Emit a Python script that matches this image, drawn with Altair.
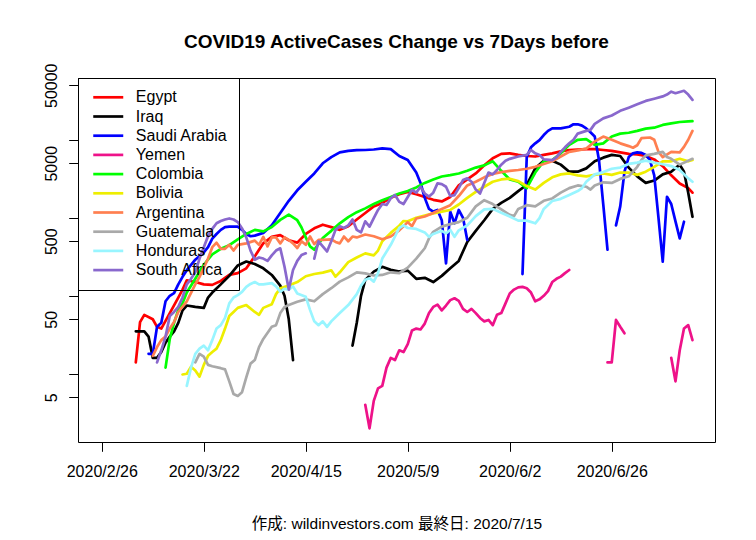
import altair as alt
import pandas as pd

COUNTRIES = ["Egypt", "Iraq", "Saudi Arabia", "Yemen", "Colombia", "Bolivia",
             "Argentina", "Guatemala", "Honduras", "South Africa"]
COLORS = ["#FF0000", "#000000", "#0000FF", "#EE1289", "#00FF00", "#EEEE00",
          "#FF7F50", "#A9A9A9", "#98F5FF", "#8968CD"]

TICK_DAYS = [0, 24, 48, 72, 96, 120]
TICK_LABELS = ["2020/2/26", "2020/3/22", "2020/4/15", "2020/5/9", "2020/6/2", "2020/6/26"]
Y_TICKS = [5, 10, 50, 100, 500, 1000, 5000, 10000, 50000]
Y_LABELED = [5, 50, 500, 5000, 50000]

TITLE = "COVID19 ActiveCases Change vs 7Days before"
CAPTION = "作成: wildinvestors.com 最終日: 2020/7/15"

# (day index, active-case change); None marks a break in the line
EGYPT = [(8, 14), (9, 46), (10, 57), (12, 50), (13, 40), (14, 38), (16, 60), (18, 95), (19, 120),
         (20, 158), (22, 150), (24, 140), (26, 138), (28, 155), (30, 185), (32, 195), (34, 225),
         (36, 320), (38, 470), (40, 570), (42, 600), (44, 515), (46, 480), (48, 620), (50, 733),
         (52, 815), (54, 760), (56, 700), (58, 780), (60, 950), (62, 1150), (64, 1400), (66, 1550),
         (68, 1800), (70, 2000), (72, 2150), (74, 2000), (76, 1850), (78, 1700), (80, 1620),
         (82, 1850), (84, 2600), (86, 3100), (88, 3700), (90, 4700), (92, 5800), (94, 6600),
         (96, 6700), (98, 6400), (100, 6200), (102, 6100), (104, 6400), (106, 6700), (108, 7100),
         (110, 7400), (112, 7500), (114, 7600), (116, 7600), (118, 7400), (120, 7200), (122, 6900),
         (124, 6600), (126, 6500), (128, 6200), (130, 5600), (132, 4600), (134, 3500), (136, 2750),
         (138, 2400), (139, 2100)]

IRAQ = [(8, 35), (10, 35), (11, 30), (12, 16), (13, 16), (14, 19), (15, 25), (16, 30), (17, 35),
        (18, 45), (19, 65), (20, 75), (22, 72), (24, 70), (25, 95), (26, 110), (28, 140), (30, 180),
        (32, 245), (34, 275), (36, 255), (38, 225), (40, 185), (42, 135), (43, 100), (44, 50),
        (45, 15), (52, None), (59, 23), (60, 45), (61, 100), (62, 160), (64, 204), (66, 235),
        (68, 215), (70, 205), (72, 210), (74, 165), (76, 170), (78, 150), (80, 180), (82, 225),
        (84, 280), (86, 490), (88, 680), (90, 930), (92, 1300), (94, 1550), (96, 1800), (98, 2200),
        (100, 2650), (102, 4300), (104, 5400), (106, 5400), (108, 4800), (110, 3900), (112, 3900),
        (114, 4300), (116, 5300), (118, 5900), (120, 6400), (122, 6200), (124, 4400), (126, 3400),
        (128, 2800), (130, 3000), (132, 3600), (134, 3900), (136, 4800), (137, 3900), (138, 2100),
        (139, 1030)]

SAUDI = [(11, 18), (12, 18), (13, 40), (14, 45), (15, 85), (16, 100), (17, 108), (18, 140),
         (19, 175), (20, 213), (22, 290), (24, 360), (25, 420), (26, 540), (27, 620), (28, 700),
         (29, 760), (30, 770), (32, 770), (33, 700), (34, 620), (35, 580), (36, 590), (38, 640),
         (40, 800), (42, 1150), (44, 1650), (46, 2250), (48, 2900), (50, 3700), (52, 5000),
         (54, 6000), (56, 6900), (58, 7200), (60, 7350), (62, 7400), (64, 7500), (66, 7750),
         (68, 7600), (70, 6200), (72, 5500), (74, 3800), (75, 2800), (76, 1800), (77, 1300),
         (78, 1200), (79, 1260), (80, 930), (81, 260), (82, 1200), (83, 850), (84, 1260), (85, 1000),
         (86, 520), (92, None), (99, 190), (100, 6000), (101, 8000), (102, 9000), (103, 9900),
         (104, 11500), (105, 13000), (106, 14000), (108, 14000), (110, 14700), (111, 15800),
         (112, 15800), (113, 15200), (114, 14000), (115, 12500), (116, 11000), (117, 5500),
         (118, 1500), (119, 390), (120, None), (121, 800), (122, 1400), (123, 3900), (124, 6000),
         (125, 6700), (126, 6900), (127, 6800), (128, 6400), (129, 5500), (130, 3500), (131, 1000),
         (132, 274), (133, 1860), (134, 1500), (135, 900), (136, 545), (137, 890)]

YEMEN = [(62, 4), (63, 2), (64, 4.5), (65, 6.5), (66, 7), (67, 12), (68, 16), (69, 15), (70, 20),
         (71, 19), (72, 24), (73, 36), (74, 38), (75, 37), (76, 44), (77, 60), (78, 72), (79, 77),
         (80, 65), (81, 75), (82, 88), (83, 93), (84, 86), (85, 68), (86, 62), (87, 68), (88, 60),
         (89, 52), (90, 47), (91, 49), (92, 42), (93, 57), (94, 60), (95, 80), (96, 107), (97, 120),
         (98, 128), (99, 130), (100, 125), (101, 110), (102, 85), (103, 90), (104, 100), (105, 115),
         (106, 150), (107, 165), (108, 176), (109, 195), (110, 214), (115, None), (119, 14),
         (120, 14), (121, 49), (122, 40), (123, 33), (128, None), (134, 16), (135, 8), (136, 20),
         (137, 38), (138, 42), (139, 27)]

COLOMBIA = [(15, 12), (16, 28), (17, 45), (18, 66), (19, 80), (20, 110), (22, 165), (24, 250),
            (26, 340), (28, 400), (30, 445), (32, 530), (34, 620), (36, 700), (38, 670), (40, 760),
            (42, 940), (44, 1100), (46, 930), (47, 750), (48, 560), (49, 430), (50, 390), (52, 550),
            (54, 680), (56, 850), (58, 1020), (60, 1180), (62, 1320), (64, 1500), (66, 1680),
            (68, 1850), (70, 2050), (72, 2200), (74, 2450), (76, 2800), (78, 3100), (80, 3380),
            (82, 3520), (84, 3700), (86, 4000), (88, 4400), (90, 4700), (92, 5300), (94, 4000),
            (96, 3100), (98, 2900), (100, 2400), (102, 3800), (104, 5300), (106, 5500), (108, 6700),
            (110, 8600), (112, 10000), (114, 10200), (116, 8600), (118, 9000), (120, 11000),
            (122, 12000), (124, 12300), (126, 13000), (128, 13900), (130, 14300), (132, 15500),
            (134, 16200), (136, 16900), (138, 17200), (139, 17300)]

BOLIVIA = [(19, 9.8), (20, 10), (21, 12.3), (22, 11), (23, 9.2), (24, 13), (25, 17), (26, 19),
           (27, 21), (28, 27), (29, 38), (30, 55), (31, 62), (32, 70), (34, 76), (36, 62), (37, 57),
           (38, 70), (40, 78), (41, 105), (42, 125), (44, 135), (46, 150), (48, 178), (50, 190),
           (52, 198), (54, 212), (55, 176), (56, 200), (58, 270), (60, 310), (62, 350), (64, 330),
           (65, 380), (66, 500), (68, 640), (70, 790), (71, 910), (72, 900), (74, 1000), (76, 1070),
           (78, 1140), (80, 1200), (82, 1260), (84, 1480), (86, 1800), (88, 2150), (90, 2500),
           (92, 2900), (94, 3100), (96, 3170), (98, 2950), (100, 2550), (102, 2300), (104, 2800),
           (106, 3300), (108, 3600), (110, 3700), (112, 3500), (114, 3400), (116, 3550), (118, 3700),
           (120, 3550), (122, 3800), (124, 3800), (126, 3550), (128, 3900), (130, 4500), (132, 5300),
           (134, 5300), (136, 5700), (138, 5300), (139, 5500)]

ARGENTINA = [(12, 17), (13, 22), (14, 27), (15, 30), (16, 38), (17, 46), (18, 62), (20, 85),
             (22, 140), (23, 175), (24, 230), (25, 300), (26, 420), (27, 480), (28, 400), (29, 400),
             (30, 450), (31, 380), (32, 450), (34, 470), (36, 510), (37, 450), (38, 570), (39, 430),
             (40, 560), (41, 560), (42, 470), (43, 560), (44, 520), (45, 470), (46, 410), (47, 500),
             (48, 450), (49, 575), (50, 460), (51, 520), (52, 520), (54, 530), (55, 490), (56, 470),
             (57, 575), (58, 500), (59, 575), (60, 560), (62, 610), (64, 580), (66, 530), (68, 575),
             (70, 690), (72, 880), (73, 780), (74, 980), (76, 1040), (78, 1150), (80, 1300),
             (82, 1450), (84, 1900), (86, 2600), (88, 2900), (90, 3300), (92, 3650), (94, 3850),
             (96, 4000), (98, 4100), (100, 4250), (102, 4500), (104, 4900), (106, 5300), (108, 6100),
             (110, 7000), (112, 7300), (114, 7700), (116, 9500), (118, 11000), (120, 10000),
             (122, 9000), (124, 8300), (125, 7900), (126, 8500), (127, 10500), (129, 10700),
             (130, 10000), (131, 7000), (132, 6000), (134, 7000), (136, 6900), (137, 8100),
             (138, 10000), (139, 13000)]

GUATEMALA = [(22, 14), (23, 18), (24, 16.6), (25, 13), (26, 12.5), (28, 11.8), (29, 11.4), (30, 8),
             (31, 5.5), (32, 5.2), (33, 5.8), (34, 9), (35, 13.5), (36, 15), (37, 22), (38, 28),
             (40, 40), (41, 42), (42, 60), (43, 72), (44, 76), (46, 84), (48, 90), (50, 85),
             (52, 105), (54, 125), (56, 152), (58, 172), (60, 200), (62, 194), (64, 182), (66, 185),
             (68, 200), (70, 195), (72, 230), (74, 300), (76, 407), (77, 545), (78, 660), (80, 770),
             (82, 830), (84, 880), (86, 1000), (88, 1400), (90, 1680), (92, 1500), (94, 1280),
             (96, 1090), (97, 1050), (98, 1300), (100, 1450), (102, 1400), (104, 1650), (106, 1770),
             (108, 2100), (110, 2400), (112, 2600), (114, 2500), (115, 2300), (116, 2600),
             (118, 2850), (120, 2800), (122, 3150), (124, 3400), (126, 4500), (127, 5500),
             (128, 6300), (130, 6600), (132, 7000), (133, 6000), (134, 5700), (136, 4800),
             (138, 5400), (139, 5700)]

HONDURAS = [(20, 7), (21, 12), (22, 18), (23, 21), (24, 23), (25, 20), (26, 27), (27, 38), (28, 42),
            (29, 52), (30, 80), (31, 95), (32, 102), (33, 112), (34, 130), (35, 142), (36, 150),
            (37, 140), (38, 140), (40, 145), (41, 132), (42, 113), (43, 123), (44, 120), (45, 132),
            (46, 107), (48, 97), (49, 66), (50, 47), (51, 42), (52, 47), (53, 40), (54, 47), (56, 60),
            (58, 76), (60, 105), (61, 135), (62, 160), (63, 168), (64, 152), (65, 195), (66, 300),
            (68, 450), (70, 740), (71, 800), (72, 740), (74, 720), (76, 650), (77, 570), (78, 620),
            (80, 680), (81, 630), (82, 700), (83, 570), (84, 690), (86, 800), (88, 1050), (90, 1280),
            (92, 1300), (94, 1160), (96, 1040), (98, 920), (100, 920), (102, 850), (103, 990),
            (104, 1300), (106, 1640), (108, 1750), (110, 1960), (112, 2200), (113, 2400), (114, 2900),
            (116, 3600), (118, 3850), (120, 4250), (122, 4400), (124, 4900), (126, 5100), (128, 5400),
            (130, 5100), (132, 4850), (134, 4600), (136, 4100), (138, 3200), (139, 2900)]

SOUTH_AFRICA = [(13, 14), (14, 20), (15, 30), (16, 55), (17, 62), (18, 72), (19, 95), (20, 140),
                (21, 165), (22, 200), (23, 300), (24, 420), (25, 580), (26, 720), (27, 850), (28, 910),
                (29, 950), (30, 980), (31, 950), (32, 880), (33, 730), (34, 560), (35, 380), (36, 290),
                (37, 310), (38, 300), (39, 280), (40, 330), (41, 380), (42, 406), (43, 236), (44, 120),
                (45, 214), (46, 280), (47, 333), (48, 350), (49, None), (50, 300), (51, 500), (52, 430),
                (53, 370), (54, 500), (55, 700), (56, 780), (57, 740), (58, 800), (59, 950), (60, 700),
                (61, 650), (62, 900), (63, 770), (64, 990), (65, 1260), (66, 1500), (67, 1460),
                (68, 1780), (69, 1960), (70, 1600), (71, 1500), (72, 1850), (73, 2270), (74, 2100),
                (75, 2500), (76, 2050), (77, 1870), (78, 2100), (79, 2760), (80, 2700), (81, 2500),
                (82, 1900), (83, 1950), (84, 2400), (85, 3050), (86, 3200), (87, 2900), (88, 2300),
                (89, 2050), (90, 2800), (91, 3800), (92, 3600), (93, 4100), (94, 4800), (95, 5400),
                (96, 5700), (98, 6100), (100, 6400), (101, 7400), (102, 6700), (103, 6400),
                (104, 5600), (106, 5500), (107, 6000), (108, 7000), (109, 8000), (110, 9000),
                (111, 10000), (112, 12000), (114, 13000), (115, 13400), (116, 16000), (118, 18800),
                (120, 20500), (122, 23500), (124, 25800), (126, 28500), (128, 31500), (130, 33600),
                (132, 36000), (133, 38000), (134, 41400), (135, 39500), (136, 41000), (137, 42500),
                (138, 38000), (139, 32500)]

SERIES = [EGYPT, IRAQ, SAUDI, YEMEN, COLOMBIA, BOLIVIA, ARGENTINA, GUATEMALA, HONDURAS, SOUTH_AFRICA]

rows = []
for name, series in zip(COUNTRIES, SERIES):
    seg = 0
    for day, val in series:
        if val is None:
            seg += 1
            continue
        rows.append({"day": day, "value": val, "country": name, "seg": f"{name}-{seg}"})
df = pd.DataFrame(rows)

FONT = "Liberation Sans"
x_label_expr = ("[" + ",".join(f"'{t}'" for t in TICK_LABELS) + "]"
                + "[indexof([" + ",".join(str(d) for d in TICK_DAYS) + "], datum.value)]")
y_label_expr = ("(" + " || ".join(f"datum.value == {v}" for v in Y_LABELED)
                + ") ? format(datum.value, 'd') : ''")

chart = alt.Chart(df).mark_line(
    strokeWidth=2.7, strokeCap="round", strokeJoin="round"
).encode(
    x=alt.X("day:Q",
            scale=alt.Scale(domain=[-5.6, 144.3], nice=False, zero=False),
            axis=alt.Axis(values=TICK_DAYS, labelExpr=x_label_expr, title=CAPTION,
                          grid=False, domain=False, tickSize=9.3, tickColor="black",
                          tickWidth=1, labelFontSize=16, labelFont=FONT, labelColor="black",
                          labelBaseline="alphabetic", labelAlign="center", labelPadding=25,
                          labelFlush=False, labelOverlap=False,
                          titleFont=FONT + ", Noto Sans CJK JP", titleFontSize=15.5,
                          titleFontWeight="normal", titleColor="black", titleX=318.5,
                          titleY=86, titleBaseline="alphabetic", titleAlign="center")),
    y=alt.Y("value:Q",
            scale=alt.Scale(type="log", domain=[1.335, 61950], nice=False),
            axis=alt.Axis(values=Y_TICKS, labelExpr=y_label_expr, title=None, grid=False,
                          domain=False, tickSize=9.3, tickColor="black", tickWidth=1,
                          labelAngle=270, labelAlign="center", labelBaseline="alphabetic",
                          labelPadding=12.7, labelFontSize=16, labelFont=FONT,
                          labelColor="black", labelOverlap=False, labelFlush=False)),
    color=alt.Color("country:N",
                    scale=alt.Scale(domain=COUNTRIES, range=COLORS),
                    legend=alt.Legend(title=None, orient="none", legendX=0, legendY=0,
                                      direction="vertical", strokeColor="black", padding=11.3,
                                      symbolType="M-3,0H3", symbolSize=100,
                                      symbolStrokeWidth=2.7, symbolOffset=10.95,
                                      labelFontSize=16, labelFont=FONT,
                                      labelColor="black", labelOffset=19.6, rowPadding=3.2,
                                      labelLimit=300)),
    detail="seg:N",
).properties(
    width=637,
    height=364,
    title=alt.Title(TITLE, fontSize=19, fontWeight="bold", font=FONT, anchor="middle",
                    baseline="alphabetic", offset=30, dy=34, color="black", frame="group"),
    autosize=alt.AutoSizeParams(type="none"),
    padding={"left": 70, "top": 70, "right": 33, "bottom": 90},
).configure_view(stroke="black", strokeWidth=1)

chart.save("out.html", embed_options={"renderer": "svg", "actions": False})
